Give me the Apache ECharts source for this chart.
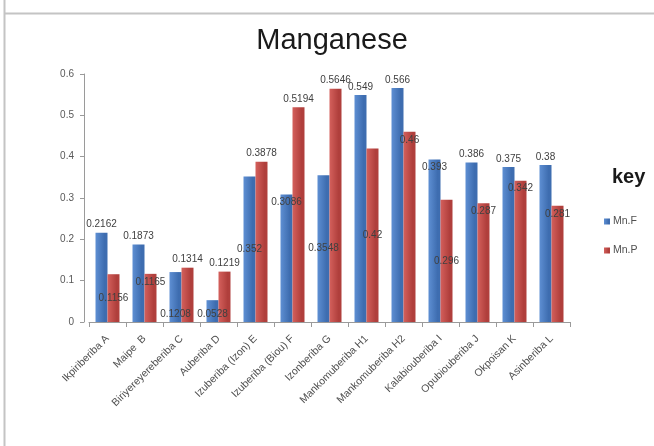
<!DOCTYPE html>
<html>
<head>
<meta charset="utf-8">
<style>
    html, body {margin: 0; padding: 0; background: #fff;}
    #chart {width: 654px; height: 446px;}
</style>
</head>
<body>
<div id="chart"></div>
<script src="https://cdn.jsdelivr.net/npm/echarts@6/dist/echarts.min.js"></script>
<script>
    // 数据
    var sites = ['Ikpiriberiba A', 'Maipe  B', 'Biriyereyereberiba C', 'Auberiba D', 'Izuberiba (Izon) E',
        'Izuberiba (Biou) F', 'Izonberiba G', 'Mankomuberiba H1', 'Mankomuberiba H2', 'Kalabiouberiba I',
        'Opubiouberiba J', 'Okpoisan K', 'Asinberiba L'];
    var mnF = [0.2162, 0.1873, 0.1208, 0.0528, 0.352, 0.3086, 0.3548, 0.549, 0.566, 0.393, 0.386, 0.375, 0.38];
    var mnP = [0.1156, 0.1165, 0.1314, 0.1219, 0.3878, 0.5194, 0.5646, 0.42, 0.46, 0.296, 0.287, 0.342, 0.281];
    var yTicks = [0, 0.1, 0.2, 0.3, 0.4, 0.5, 0.6];

    // 标签位置（仿 Excel 的摆放）
    var placeF = ['top', 'top', 'insideBottom', 'insideBottom', 'inside', 'insideTop', 'inside',
        'top', 'top', 'insideTop', 'top', 'top', 'top'];
    var placeP = ['inside', 'insideTop', 'top', 'top', 'top', 'top', 'top',
        'inside', 'insideTop', 'inside', 'insideTop', 'insideTop', 'insideTop'];

    function withLabels(values, places) {
        return values.map(function (v, i) {
            return {value: v, label: {position: places[i]}};
        });
    }

    function grad(c1, c2) {
        return new echarts.graphic.LinearGradient(0, 0, 1, 0, [
            {offset: 0, color: c1},
            {offset: 0.75, color: c2},
            {offset: 1, color: c2}
        ]);
    }

    var labelStyle = {
        show: true,
        color: '#404040',
        fontSize: 10,
        fontFamily: 'Liberation Sans',
        distance: 3,
        formatter: function (p) { return String(p.value); }
    };

    var myChart = echarts.init(document.getElementById('chart'));
    var option = {
        animation: false,
        textStyle: {fontFamily: 'Liberation Sans'},
        title: [
            {
                text: 'Manganese',
                left: 327,
                top: 21,
                textAlign: 'center',
                textStyle: {fontSize: 29, fontWeight: 'normal', color: '#1a1a1a'}
            },
            {
                text: 'key',
                left: 607,
                top: 162,
                textStyle: {fontSize: 20, fontWeight: 'bold', color: '#1a1a1a'}
            }
        ],
        legend: {
            orient: 'vertical',
            left: 599,
            top: 211,
            itemWidth: 6,
            itemHeight: 6,
            itemGap: 18,
            icon: 'rect',
            textStyle: {fontSize: 10.5, color: '#505050', padding: [0, 0, 0, -2]},
            data: ['Mn.F', 'Mn.P']
        },
        graphic: [
            {type: 'line', shape: {x1: 4.5, y1: 0, x2: 4.5, y2: 446}, style: {stroke: '#c4c4c4', lineWidth: 2}},
            {type: 'line', shape: {x1: 5, y1: 13.5, x2: 654, y2: 13.5}, style: {stroke: '#c4c4c4', lineWidth: 2}}
        ],
        grid: {
            left: 89,
            right: 84,
            top: 74,
            bottom: 124
        },
        xAxis: {
            type: 'category',
            data: sites,
            axisLine: {lineStyle: {color: '#9a9a9a'}},
            axisTick: {show: true, interval: 0, lineStyle: {color: '#9a9a9a'}},
            axisLabel: {
                interval: 0,
                rotate: 45,
                fontSize: 10.5,
                color: '#505050',
                margin: 15
            }
        },
        yAxis: {
            type: 'value',
            min: 0,
            max: 0.6,
            interval: 0.1,
            offset: 5,
            axisLine: {show: true, lineStyle: {color: '#9a9a9a'}},
            axisTick: {show: true, length: 4, lineStyle: {color: '#9a9a9a'}},
            splitLine: {show: false},
            axisLabel: {
                fontSize: 10,
                color: '#595959',
                margin: 10,
                formatter: function (v) {
                    var t = yTicks.filter(function (x) { return Math.abs(x - v) < 1e-9; });
                    return t.length ? String(t[0]) : '';
                }
            }
        },
        series: [
            {
                name: 'Mn.F',
                type: 'bar',
                barWidth: 12,
                barGap: '0%',
                itemStyle: {color: grad('#5e8fd3', '#3e6db0')},
                label: labelStyle,
                data: withLabels(mnF, placeF)
            },
            {
                name: 'Mn.P',
                type: 'bar',
                barWidth: 12,
                barGap: '0%',
                itemStyle: {color: grad('#d4605c', '#b03f3c')},
                label: labelStyle,
                data: withLabels(mnP, placeP)
            }
        ]
    };
    myChart.setOption(option);
</script>
</body>
</html>
